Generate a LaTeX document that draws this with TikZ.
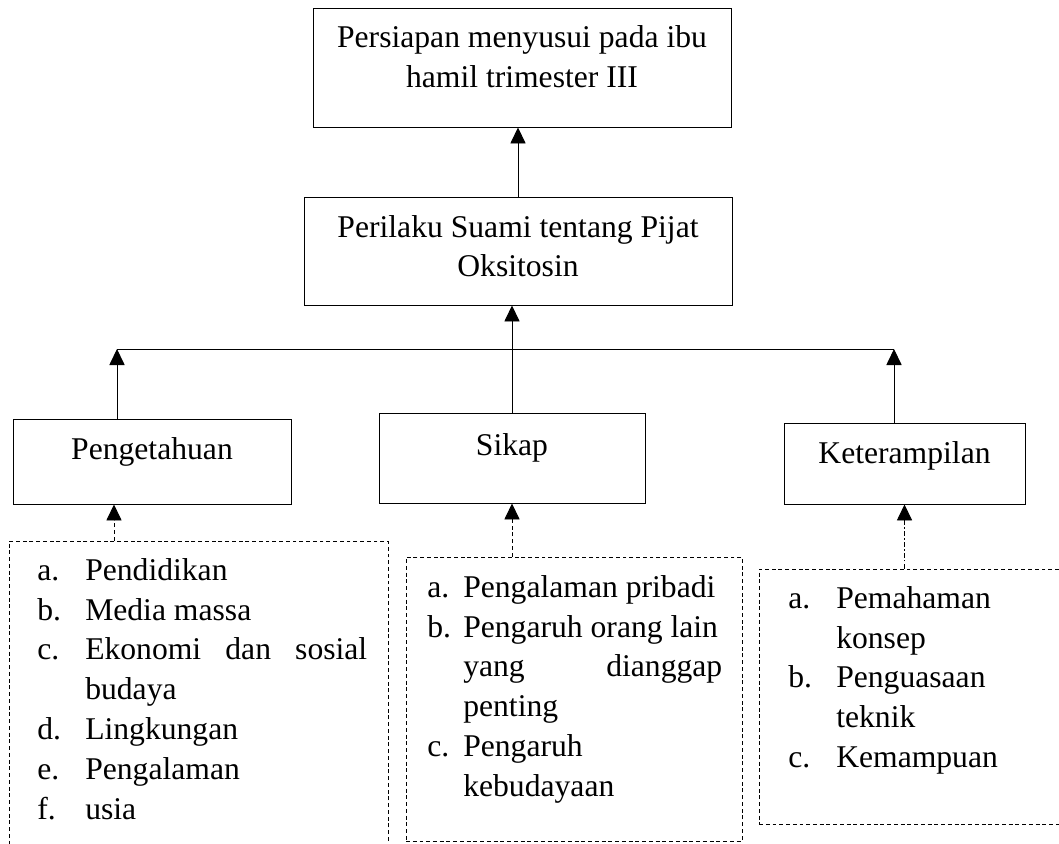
\documentclass[tikz,border=0pt]{standalone}
\usepackage{fontspec}
\setmainfont{Liberation Serif}
\usepackage{tikz}
\usetikzlibrary{arrows.meta, positioning, calc}
\newcommand{\itemlbl}[2][1.2cm]{\makebox[#1][l]{#2}}
\tikzset{
  block/.style={rectangle, draw=black, line width=0.7pt,
    inner xsep=0pt, inner ysep=0pt, anchor=base},
  listbox/.style={rectangle, draw=black, line width=0.7pt,
    dash pattern=on 2.8pt off 2pt},
  listtext/.style={inner sep=0pt, anchor=base west},
  arrow/.style={-{Triangle[width=0.38cm,length=0.4cm]}, line width=0.7pt},
  dasharrow/.style={arrow, dash pattern=on 2.8pt off 2pt},
  dotarrow/.style={arrow, dash pattern=on 3pt off 2pt on 0.8pt off 2pt},
  line/.style={line width=0.7pt}
}
\begin{document}
\begin{tikzpicture}[font=\fontsize{22.5}{28.45}\selectfont]
  \clip (0,0) rectangle (26.475,-21.075);

  % Upper boxes
  \node[block, minimum width=10.45cm, text height=1cm, text depth=1.975cm] (prep) at (13.05,-1.2)
    {\begin{tabular}[t]{@{}c@{}}Persiapan menyusui pada ibu\\ hamil trimester III\end{tabular}};
  \node[block, minimum width=10.7cm, text height=1cm, text depth=1.7cm] (perilaku) at (12.95,-5.925)
    {\begin{tabular}[t]{@{}c@{}}Perilaku Suami tentang Pijat\\ Oksitosin\end{tabular}};

  % Domains
  \node[block, minimum width=6.95cm, text height=1cm, text depth=1.125cm] (pengetahuan) at (3.8,-11.475) {Pengetahuan};
  \node[block, minimum width=6.65cm, text height=1.05cm, text depth=1.2cm] (sikap) at (12.8,-11.375) {Sikap};
  \node[block, minimum width=6.025cm, text height=1cm, text depth=1.025cm] (keterampilan) at (22.6125,-11.575) {Keterampilan};

  % Factor lists
  \node[listbox, minimum width=9.475cm, minimum height=7.975cm] (faktor-p) at (4.9625,-17.5125) {};
  \node[listbox, minimum width=8.4cm, minimum height=7.1cm] (faktor-s) at (14.35,-17.475) {};
  \node[listbox, minimum width=7.9cm, minimum height=6.375cm] (faktor-k) at (22.925,-17.4125) {};

  \node[listtext] (isi-p) at (0.925,-14.5) {\begin{tabular}[t]{@{}l@{}}
    \itemlbl{a.}Pendidikan\\
    \itemlbl{b.}Media massa\\
    \itemlbl{c.}\makebox[7.05cm][s]{Ekonomi dan sosial}\\
    \hspace{1.2cm}budaya\\
    \itemlbl{d.}Lingkungan\\
    \itemlbl{e.}Pengalaman\\
    \itemlbl{f.}usia
  \end{tabular}};
  \node[listtext] (isi-s) at (10.675,-14.925) {\begin{tabular}[t]{@{}l@{}}
    \itemlbl[0.9cm]{a.}Pengalaman pribadi\\
    \itemlbl[0.9cm]{b.}Pengaruh orang lain\\
    \hspace{0.9cm}\makebox[6.475cm][s]{yang dianggap}\\
    \hspace{0.9cm}penting\\
    \itemlbl[0.9cm]{c.}Pengaruh\\
    \hspace{0.9cm}kebudayaan
  \end{tabular}};
  \node[listtext] (isi-k) at (19.7,-15.2) {\begin{tabular}[t]{@{}l@{}}
    \itemlbl{a.}Pemahaman\\
    \hspace{1.2cm}konsep\\
    \itemlbl{b.}Penguasaan\\
    \hspace{1.2cm}teknik\\
    \itemlbl{c.}Kemampuan
  \end{tabular}};

  % Connectors
  \draw[arrow] (perilaku.north) -- (perilaku.north |- prep.south);
  \draw[arrow] (sikap.north) -- (sikap.north |- perilaku.south);
  \coordinate (bar-l) at (2.925,-8.725);
  \coordinate (bar-r) at (22.35,-8.725);
  \draw[line] (bar-l) -- (bar-r);
  \draw[arrow] (pengetahuan.north -| bar-l) -- (bar-l);
  \draw[arrow] (keterampilan.north -| bar-r) -- (bar-r);

  \coordinate (p-in) at ([xshift=-0.95cm]pengetahuan.south);
  \draw[dasharrow] (p-in |- faktor-p.north) -- (p-in);
  \draw[dasharrow] (faktor-s.north -| sikap.south) -- (sikap.south);
  \draw[dotarrow] (faktor-k.north -| keterampilan.south) -- (keterampilan.south);
\end{tikzpicture}
\end{document}
